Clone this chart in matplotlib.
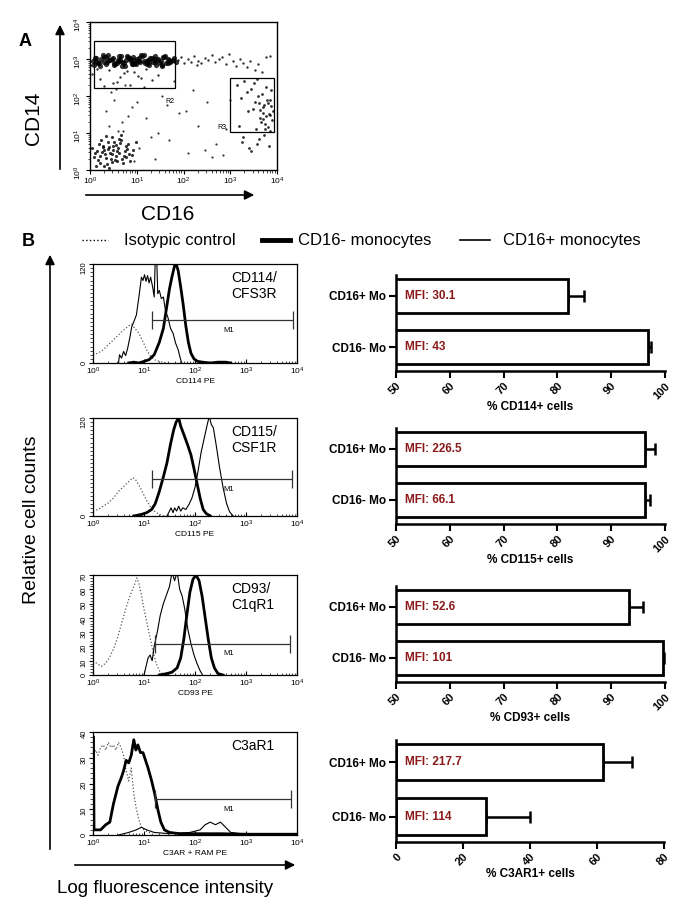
import numpy as np
import matplotlib
matplotlib.use('Agg')
import matplotlib.pyplot as plt
from matplotlib.lines import Line2D
from matplotlib.patches import Rectangle, FancyArrowPatch
from matplotlib.ticker import FixedLocator, MultipleLocator, LogLocator, NullFormatter

plt.rcParams['font.family'] = ['Liberation Sans', 'DejaVu Sans']

# ---------------- panel A: CD14 / CD16 dot plot (log10 units) ----------------
band_x = [0.06,0.11,0.19,0.24,0.31,0.37,0.43,0.49,0.54,0.61,0.66,0.72,0.78,0.83,0.89,0.94,1.01,1.07,1.12,1.18,1.24,1.29,1.35,1.41,1.46,1.52,1.58,1.63,1.69,1.74,1.79,
          0.09,0.16,0.27,0.34,0.41,0.46,0.57,0.63,0.69,0.75,0.86,0.91,0.97,1.04,1.15,1.21,1.27,1.33,1.38,1.44,1.55,1.61,1.67,1.77,
          0.13,0.22,0.29,0.39,0.52,0.59,0.68,0.81,0.88,0.99,1.09,1.16,1.26,1.36,1.49,1.57,1.71,
          0.18,0.35,0.51,0.64,0.79,0.93,1.05,1.22,1.39,1.53,1.66,1.84]
band_y = [2.95,3.02,2.88,2.99,3.06,2.91,2.97,3.03,2.86,2.94,3.08,2.9,2.98,3.04,2.87,2.96,3.01,2.92,3.07,2.89,2.97,3.03,2.93,2.85,3.0,2.95,3.05,2.9,2.98,2.94,3.02,
          2.84,2.92,3.1,2.87,2.96,3.01,2.89,3.09,2.93,2.82,2.99,3.06,2.88,2.95,3.11,2.86,2.93,3.04,2.91,2.97,2.83,3.08,2.9,2.96,
          3.04,2.81,2.93,3.12,2.9,2.98,2.8,3.05,2.94,2.87,3.1,2.95,2.84,3.0,2.88,3.06,2.92,
          2.9,3.05,2.83,2.97,3.09,2.86,3.02,2.94,3.07,2.81,2.99,2.91]
fringe_x = [0.04,0.22,0.41,0.58,0.73,0.86,1.02,1.19,0.31,0.65,0.95,1.33,0.14,0.5,0.8,1.1,1.45,0.03]
fringe_y = [2.6,2.45,2.7,2.38,2.62,2.3,2.55,2.72,2.28,2.5,2.66,2.42,2.74,2.35,2.68,2.48,2.58,2.85]
ext_x = [1.88,1.95,2.02,2.1,2.16,2.23,2.31,2.38,2.45,2.52,2.6,2.68,2.75,2.83,2.9,2.97,3.05,3.12,3.2,3.27,3.35,3.43,3.52,3.6,3.68,3.77,3.85,2.28]
ext_y = [2.97,3.05,2.9,3.0,2.93,3.08,2.95,2.88,3.02,2.97,3.1,2.92,2.99,3.05,2.87,3.14,2.95,2.82,3.0,2.9,2.78,2.95,2.7,2.86,2.65,3.05,3.08,2.85]
bl_x = [0.08,0.15,0.22,0.28,0.33,0.39,0.44,0.5,0.55,0.61,0.67,0.72,0.79,0.86,
        0.12,0.19,0.26,0.35,0.41,0.47,0.53,0.58,0.64,0.7,0.76,0.83,0.93,
        0.05,0.17,0.24,0.31,0.37,0.43,0.49,0.56,0.62,0.69,0.74,0.81,0.9,
        0.1,0.21,0.29,0.38,0.46,0.52,0.6,0.66,0.78,0.98,0.27,0.4,0.57,0.34,0.48]
bl_y = [0.35,0.52,0.2,0.61,0.42,0.75,0.3,0.55,0.68,0.45,0.82,0.38,0.58,0.25,
        0.12,0.7,0.48,0.33,0.62,0.9,0.27,0.5,0.72,0.18,0.64,0.43,0.55,
        0.6,0.28,0.8,0.54,0.15,0.47,0.66,0.37,0.85,0.3,0.52,0.7,0.4,
        0.45,0.38,0.1,0.58,0.22,0.77,0.6,0.95,0.34,0.75,0.65,0.05,0.25,0.92,0.42]
r3_x = [3.15,3.22,3.3,3.38,3.45,3.52,3.58,3.63,3.67,3.71,3.75,3.79,3.83,3.87,3.9,
        3.25,3.41,3.55,3.61,3.69,3.73,3.77,3.81,3.85,3.92,
        3.18,3.35,3.48,3.6,3.66,3.72,3.8,3.86,3.44,3.57,3.64,3.7,3.76,3.84,3.28,3.5,3.62,3.74,3.82,3.88]
r3_y = [2.3,1.95,2.4,1.6,2.2,1.85,2.45,1.4,2.05,1.7,1.25,1.9,1.5,2.15,1.35,
        0.75,0.6,1.1,0.85,1.55,0.95,1.45,1.8,1.05,1.6,
        1.2,2.1,1.65,2.0,1.3,1.75,1.15,1.9,0.5,0.7,1.62,1.38,2.25,1.48,0.9,2.35,1.82,1.12,0.65,1.72]
sp_x = [0.35,0.52,0.68,0.45,0.6,0.75,0.9,1.05,1.2,1.38,1.55,1.7,1.9,2.1,2.3,2.5,2.7,2.9,1.15,1.45,
        0.82,0.4,0.95,1.65,2.2,2.6,3.0,1.3,0.55,2.05,1.8,2.45,0.7,1.0,2.85]
sp_y = [1.6,1.9,1.3,2.1,1.05,2.3,1.7,0.6,1.4,0.3,2.0,0.8,1.55,0.45,1.2,1.85,0.7,1.1,2.25,1.0,
        1.45,1.2,0.25,1.75,2.15,0.35,1.9,0.9,2.2,1.6,2.4,0.55,1.05,1.85,0.4]

gate_names = ['R2', 'R3']
gate_x = [(0.09, 1.82), (2.99, 3.94)]
gate_y = [(2.22, 3.49), (1.02, 2.49)]
gate_lab = [(1.62, 1.86), (2.72, 1.14)]

# ---------------- panel B: histograms (x in log10 units, counts) ----------------
cd114_iso = [(0,10),(0.1,12),(0.2,16),(0.3,22),(0.4,28),(0.5,34),(0.6,40),(0.7,45),(0.76,47),(0.82,42),(0.9,36),
             (0.98,26),(1.05,16),(1.12,9),(1.2,4),(1.3,2),(1.45,0)]
cd114_neg = [(0.7,0),(0.8,1),(0.9,0),(1.0,2),(1.1,4),(1.2,10),(1.3,25),(1.38,42),(1.45,70),(1.5,90),(1.55,105),(1.6,118),
             (1.63,120),(1.67,112),(1.72,92),(1.77,70),(1.82,45),(1.87,25),(1.92,12),(1.98,5),(2.05,2),(2.15,1),(2.3,0),
             (2.45,1),(2.6,1),(2.7,0)]
cd114_pos = [(0.5,0),(0.52,10),(0.56,6),(0.6,14),(0.64,9),(0.68,18),(0.72,30),(0.76,44),(0.8,50),(0.85,58),(0.9,80),
             (0.95,104),(0.98,100),(1.01,107),(1.04,99),(1.07,106),(1.1,97),(1.13,104),(1.17,92),(1.2,80),(1.22,125),
             (1.25,125),(1.27,84),(1.3,88),(1.34,78),(1.38,80),(1.42,64),(1.47,55),(1.52,42),(1.57,36),(1.62,24),
             (1.67,16),(1.71,6),(1.74,0)]
cd115_iso = [(0,6),(0.1,8),(0.2,12),(0.3,16),(0.4,22),(0.5,30),(0.6,36),(0.7,42),(0.78,47),(0.84,44),(0.9,38),
             (0.98,28),(1.06,18),(1.14,10),(1.22,5),(1.3,2),(1.4,0)]
cd115_neg = [(0.8,0),(0.95,2),(1.05,4),(1.15,8),(1.22,15),(1.3,30),(1.38,48),(1.45,65),(1.52,88),(1.58,105),(1.63,115),
             (1.68,120),(1.72,110),(1.78,100),(1.85,88),(1.92,75),(1.98,58),(2.04,40),(2.1,22),(2.16,8),(2.22,3),(2.3,0)]
cd115_pos = [(1.45,0),(1.5,6),(1.53,10),(1.57,4),(1.6,10),(1.64,6),(1.68,12),(1.72,6),(1.76,10),(1.82,8),(1.88,14),
             (1.94,22),(2.0,35),(2.06,55),(2.12,78),(2.18,95),(2.24,112),(2.28,122),(2.32,112),(2.36,108),(2.42,85),
             (2.48,60),(2.55,35),(2.62,15),(2.68,5),(2.75,0)]
cd93_iso = [(0,10),(0.08,8),(0.16,6),(0.24,8),(0.32,12),(0.4,18),(0.48,26),(0.56,36),(0.64,46),(0.72,55),(0.8,62),
            (0.86,68),(0.9,64),(0.95,56),(1.0,46),(1.06,36),(1.12,26),(1.18,16),(1.24,8),(1.3,3),(1.38,0)]
cd93_neg = [(1.3,0),(1.45,1),(1.55,2),(1.65,5),(1.72,12),(1.78,25),(1.84,42),(1.9,58),(1.96,67),(2.02,70),(2.08,66),
            (2.14,55),(2.2,40),(2.26,25),(2.32,12),(2.38,5),(2.45,1),(2.55,0)]
cd93_pos = [(1.0,0),(1.04,6),(1.08,12),(1.12,14),(1.16,10),(1.2,20),(1.26,30),(1.32,42),(1.38,50),(1.44,56),(1.5,62),
            (1.55,72),(1.6,66),(1.65,72),(1.7,60),(1.75,55),(1.8,46),(1.86,32),(1.92,22),(1.98,14),(2.04,8),(2.1,3),(2.15,0)]
c3ar_iso = [(0,30),(0.05,33),(0.1,31),(0.15,34),(0.2,35),(0.25,33),(0.3,36),(0.35,34),(0.4,35),(0.45,33),(0.5,36),
            (0.55,34),(0.6,31),(0.65,25),(0.7,21),(0.75,26),(0.8,16),(0.85,10),(0.9,6),(0.95,3),(1.0,2),(1.1,1),(1.2,0)]
c3ar_neg = [(0.01,38),(0.02,2),(0.15,2),(0.25,4),(0.33,5),(0.4,12),(0.49,19),(0.55,22),(0.6,25),(0.65,29),(0.7,28),
            (0.75,31),(0.8,37),(0.84,33),(0.88,35),(0.93,32),(0.98,32),(1.03,29),(1.08,26),(1.15,21),(1.21,16),(1.27,10),
            (1.33,5),(1.4,2),(1.5,1),(1.7,0.5),(2.0,0.5),(2.5,0.5),(3.0,0.3),(4.0,0.3)]
c3ar_pos = [(0.5,0),(0.7,1),(0.85,2),(0.95,3),(1.05,2),(1.2,1),(1.5,0.5),(1.9,1),(2.1,2),(2.2,4),(2.3,5),(2.4,4),
            (2.5,5),(2.6,3),(2.7,1),(2.9,0.5),(3.2,0)]

hist_names = ['CD114/\nCFS3R', 'CD115/\nCSF1R', 'CD93/\nC1qR1', 'C3aR1']
hist_xlabels = ['CD114 PE', 'CD115 PE', 'CD93 PE', 'C3AR + RAM PE']
hist_ymax = [120, 120, 70, 40]
hist_yticks = [[0, 120], [0, 120], [0, 10, 20, 30, 40, 50, 60, 70], [0, 10, 20, 30, 40]]
hist_curves = [(cd114_iso, cd114_neg, cd114_pos), (cd115_iso, cd115_neg, cd115_pos),
               (cd93_iso, cd93_neg, cd93_pos), (c3ar_iso, c3ar_neg, c3ar_pos)]
m1_gate = [(1.15, 3.92, 52), (1.15, 3.9, 45), (1.22, 3.86, 22), (1.22, 3.88, 14)]

# ---------------- panel B: bar charts ----------------
groups = ['CD16+ Mo', 'CD16- Mo']
bar_labels = ['% CD114+ cells', '% CD115+ cells', '% CD93+ cells', '% C3AR1+ cells']
bar_vals = [[82.0, 96.8], [96.2, 96.3], [93.4, 99.6], [61.8, 27.0]]
bar_err = [[3.0, 0.6], [1.9, 1.0], [2.6, 0.2], [8.6, 13.1]]
bar_mfi = [['30.1', '43'], ['226.5', '66.1'], ['52.6', '101'], ['217.7', '114']]
bar_xlim = [(50, 100), (50, 100), (50, 100), (0, 80)]
bar_ticks = [[50, 60, 70, 80, 90, 100]] * 3 + [[0, 20, 40, 60, 80]]

W, H = 685, 913
fig = plt.figure(figsize=(W / 100, H / 100), dpi=100)


def box(l, t, r, b):
    return fig.add_axes([l / W, 1 - b / H, (r - l) / W, (b - t) / H])


def fx(x):
    return x / W


def fy(y):
    return 1 - y / H


def arrow(x0, y0, x1, y1):
    fig.add_artist(FancyArrowPatch((fx(x0), fy(y0)), (fx(x1), fy(y1)), transform=fig.transFigure,
                                   arrowstyle='-|>', mutation_scale=14, lw=1.2, color='black'))


# panel A
ax = box(90, 22, 277, 170)
dots = [(band_x, band_y, 14), (fringe_x, fringe_y, 3), (ext_x, ext_y, 3),
        (bl_x, bl_y, 5), (r3_x, r3_y, 4), (sp_x, sp_y, 2.5)]
for xs, ys, s in dots:
    ax.scatter(10 ** np.array(xs), 10 ** np.array(ys), s=s, c='black', lw=0, alpha=0.8)
for name, gx, gy, gl in zip(gate_names, gate_x, gate_y, gate_lab):
    ax.add_patch(Rectangle((10 ** gx[0], 10 ** gy[0]), 10 ** gx[1] - 10 ** gx[0], 10 ** gy[1] - 10 ** gy[0],
                           fill=False, lw=0.9, color='black'))
    ax.text(10 ** gl[0], 10 ** gl[1], name, fontsize=5, ha='left', va='center')
ax.set_xscale('log')
ax.set_yscale('log')
ax.set_xlim(1, 1e4)
ax.set_ylim(1, 1e4)
ax.xaxis.set_minor_locator(LogLocator(subs=np.arange(2, 10)))
ax.yaxis.set_minor_locator(LogLocator(subs=np.arange(2, 10)))
ax.xaxis.set_minor_formatter(NullFormatter())
ax.yaxis.set_minor_formatter(NullFormatter())
ax.tick_params(labelsize=6, length=3, width=0.8, pad=1)
ax.tick_params(which='minor', length=1.8, width=0.5)
ax.tick_params(axis='y', labelrotation=90)
for sp in ax.spines.values():
    sp.set_linewidth(1.0)

fig.text(fx(25), fy(42), 'A', fontsize=13, fontweight='bold', ha='center', va='center')
arrow(60, 172, 60, 22)
arrow(83, 195, 257, 195)
fig.text(fx(33), fy(118), 'CD14', fontsize=15, rotation=90, ha='center', va='center')
fig.text(fx(168), fy(214), 'CD16', fontsize=15, ha='center', va='center')

# panel B legend
fig.text(fx(28), fy(241), 'B', fontsize=13, fontweight='bold', ha='center', va='center')
fig.add_artist(Line2D([fx(82), fx(108)], [fy(240), fy(240)], transform=fig.transFigure, ls=':', lw=1.0, color='black'))
fig.text(fx(124), fy(240), 'Isotypic control', fontsize=12, ha='left', va='center')
fig.add_artist(Line2D([fx(262), fx(290)], [fy(240), fy(240)], transform=fig.transFigure, lw=3.5, color='black'))
fig.text(fx(298), fy(240), 'CD16- monocytes', fontsize=12, ha='left', va='center')
fig.add_artist(Line2D([fx(460), fx(490)], [fy(240), fy(240)], transform=fig.transFigure, lw=1.2, color='black'))
fig.text(fx(503), fy(240), 'CD16+ monocytes', fontsize=12, ha='left', va='center')

arrow(50, 852, 50, 252)
arrow(72, 865, 298, 865)
fig.text(fx(32), fy(520), 'Relative cell counts', fontsize=14, rotation=90, ha='center', va='center')
fig.text(fx(165), fy(888), 'Log fluorescence intensity', fontsize=13.5, ha='center', va='center')

# histograms
hist_boxes = [(93, 264, 297, 363), (93, 418, 297, 516), (93, 575, 297, 675), (93, 732, 297, 835)]
for i, b in enumerate(hist_boxes):
    ax = box(*b)
    iso, neg, pos = hist_curves[i]
    for curve, ls, lw, col in [(iso, ':', 0.9, '#555555'), (pos, '-', 0.8, 'black'), (neg, '-', 2.0, 'black')]:
        cx, cy = zip(*curve)
        ax.plot(10 ** np.array(cx), cy, ls=ls, lw=lw, color=col, clip_on=True)
    x0, x1, lev = m1_gate[i]
    ymax = hist_ymax[i]
    ax.hlines(lev, 10 ** x0, 10 ** x1, color='#333333', lw=0.9)
    ax.vlines([10 ** x0, 10 ** x1], lev - 0.09 * ymax, lev + 0.09 * ymax, color='#333333', lw=0.9)
    ax.text(10 ** 2.66, lev - 0.1 * ymax, 'M1', fontsize=5.5, ha='center', va='center')
    ax.text(0.68, 0.93, hist_names[i], transform=ax.transAxes, fontsize=10, ha='left', va='top', linespacing=1.15)
    ax.set_xscale('log')
    ax.set_xlim(1, 1e4)
    ax.set_ylim(0, ymax)
    ax.xaxis.set_minor_locator(LogLocator(subs=np.arange(2, 10)))
    ax.xaxis.set_minor_formatter(NullFormatter())
    ax.yaxis.set_major_locator(FixedLocator(hist_yticks[i]))
    ax.yaxis.set_minor_locator(MultipleLocator(ymax / 24 if ymax == 120 else 2))
    ax.tick_params(axis='x', which='both', direction='in', labelsize=6, pad=2)
    ax.tick_params(axis='x', which='major', length=3, width=0.8)
    ax.tick_params(axis='x', which='minor', length=1.8, width=0.5)
    ax.tick_params(axis='y', which='major', length=3, width=0.8, labelsize=5.5, labelrotation=90, pad=1)
    ax.tick_params(axis='y', which='minor', length=2, width=0.5)
    ax.set_xlabel(hist_xlabels[i], fontsize=6, labelpad=1)
    for sp in ax.spines.values():
        sp.set_linewidth(0.9)

# bar charts
bar_boxes = [(396, 275, 665, 371), (396, 428, 665, 524), (396, 586, 665, 682), (396, 740, 664, 842)]
for i, b in enumerate(bar_boxes):
    ax = box(*b)
    ypos = [1, 0]
    ax.barh(ypos, bar_vals[i], height=0.67, color='white', edgecolor='black', lw=2.0, zorder=2)
    ax.errorbar(bar_vals[i], ypos, xerr=[[0, 0], bar_err[i]], fmt='none', ecolor='black',
                elinewidth=1.8, capsize=4, capthick=1.8, zorder=1)
    for y, m in zip(ypos, bar_mfi[i]):
        ax.text(0.035, y, 'MFI: ' + m, transform=ax.get_yaxis_transform(), fontsize=8.5,
                fontweight='bold', color='#8B1A1A', ha='left', va='center', zorder=3)
    ax.set_xlim(*bar_xlim[i])
    ax.set_ylim(-0.47, 1.41)
    ax.set_yticks(ypos)
    ax.set_yticklabels(groups, fontsize=8.5, fontweight='bold')
    ax.set_xticks(bar_ticks[i])
    ax.set_xticklabels([str(t) for t in bar_ticks[i]], fontsize=8, fontweight='bold',
                       rotation=45, ha='right', va='top', rotation_mode='anchor')
    ax.set_xlabel(bar_labels[i], fontsize=8.5, fontweight='bold', labelpad=0)
    ax.tick_params(length=5, width=1.5, pad=2)
    for s in ['top', 'right']:
        ax.spines[s].set_visible(False)
    for s in ['left', 'bottom']:
        ax.spines[s].set_linewidth(1.8)

fig.savefig('out.png', dpi=100)
